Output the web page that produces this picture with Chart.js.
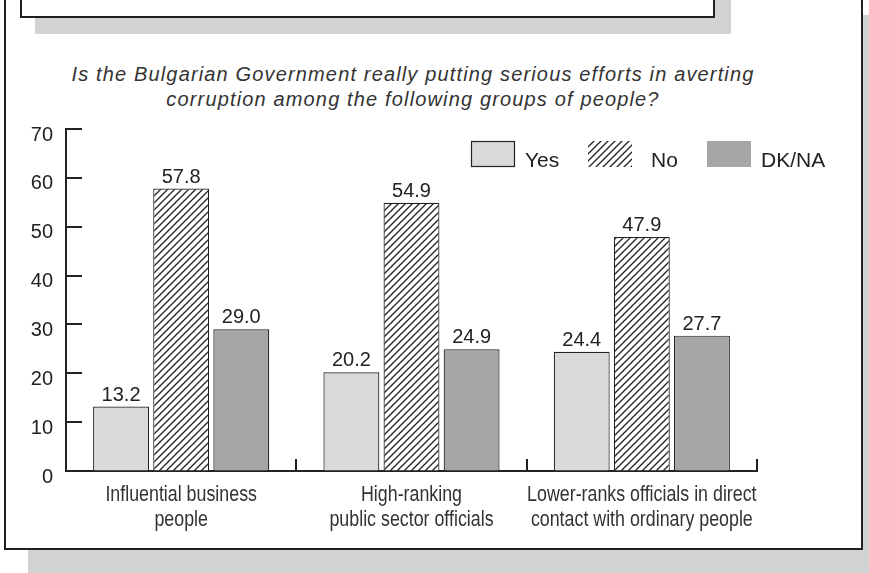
<!DOCTYPE html>
<html><head><meta charset="utf-8">
<script src="https://cdn.jsdelivr.net/npm/chart.js@4.4.1/dist/chart.umd.min.js"></script>
<style>
html,body{margin:0;padding:0;background:#fff;width:869px;height:573px;overflow:hidden;position:relative;}
.abs{position:absolute;box-sizing:border-box;}
#subtitle{left:0;width:826px;top:62px;text-align:center;font:italic 20px "Liberation Sans",Arial,sans-serif;letter-spacing:1.15px;line-height:25px;color:#333;}
canvas{position:absolute;left:0;top:0;}
</style></head><body>
<div class="abs" style="left:28px;top:15px;right:0;bottom:0;background:#d1d2d4;"></div>
<div class="abs" style="left:4px;top:-10px;width:859px;height:560px;border:2px solid #231f20;background:#fff;"></div>
<div class="abs" style="left:35px;top:-5px;width:696px;height:39px;background:#d1d2d4;"></div>
<div class="abs" style="left:20px;top:-10px;width:695px;height:28px;border:2px solid #231f20;background:#fff;"></div>
<div class="abs" id="subtitle">Is the Bulgarian Government really putting serious efforts in averting<br>corruption among the following groups of people?</div>
<canvas id="c" width="869" height="573"></canvas>
<script>
const categories = [
  ['Influential business', 'people'],
  ['High-ranking', 'public sector officials'],
  ['Lower-ranks officials in direct', 'contact with ordinary people']
];
const seriesNames = ['Yes', 'No', 'DK/NA'];
const yesValues = [13.2, 20.2, 24.4];
const noValues = [57.8, 54.9, 47.9];
const dkValues = [29.0, 24.9, 27.7];
const yMin = 0, yMax = 70, yStep = 10;

const canvas = document.getElementById('c');
const ctx = canvas.getContext('2d');
const INK = '#222';

function hatchPattern() {
  const s = 7;
  const c = document.createElement('canvas');
  c.width = s; c.height = s;
  const g = c.getContext('2d');
  g.fillStyle = '#fff'; g.fillRect(0, 0, s, s);
  g.strokeStyle = INK; g.lineWidth = 1.3;
  g.beginPath();
  g.moveTo(-1, s + 1); g.lineTo(s + 1, -1);
  g.moveTo(-1, 1); g.lineTo(1, -1);
  g.moveTo(s - 1, s + 1); g.lineTo(s + 1, s - 1);
  g.stroke();
  return ctx.createPattern(c, 'repeat');
}
const hatch = hatchPattern();
const fills = ['#d9d9d9', hatch, '#a6a6a6'];

const axisTicks = {
  id: 'axisTicks',
  afterDraw(chart) {
    const { ctx, chartArea, scales } = chart;
    const y = scales.y, x = scales.x;
    ctx.save();
    ctx.strokeStyle = INK; ctx.lineWidth = 2;
    ctx.beginPath();
    for (let v = yMin; v <= yMax; v += yStep) {
      const py = Math.round(y.getPixelForValue(v));
      ctx.moveTo(chartArea.left, py); ctx.lineTo(chartArea.left + 16, py);
    }
    for (let i = 1; i <= categories.length; i++) {
      const px = Math.round(x.getPixelForValue(i - 0.5));
      ctx.moveTo(px, chartArea.bottom); ctx.lineTo(px, chartArea.bottom - 12);
    }
    ctx.stroke();
    // condensed category labels
    ctx.fillStyle = '#333';
    ctx.font = '22px "Liberation Sans", Arial, sans-serif';
    ctx.textAlign = 'center'; ctx.textBaseline = 'alphabetic';
    categories.forEach((lines, i) => {
      const cx = x.getPixelForValue(i);
      lines.forEach((t, j) => {
        ctx.save();
        ctx.translate(cx, chartArea.bottom + 30 + j * 25);
        ctx.scale(0.81, 1);
        ctx.fillText(t, 0, 0);
        ctx.restore();
      });
    });
    ctx.restore();
  }
};

const valueLabels = {
  id: 'valueLabels',
  afterDatasetsDraw(chart) {
    const { ctx } = chart;
    ctx.save();
    ctx.font = '20px "Liberation Sans", Arial, sans-serif';
    ctx.fillStyle = INK; ctx.textAlign = 'center'; ctx.textBaseline = 'alphabetic';
    chart.data.datasets.forEach((ds, di) => {
      chart.getDatasetMeta(di).data.forEach((el, i) => {
        ctx.fillText(ds.data[i].toFixed(1), el.x, el.y - 6);
      });
    });
    ctx.restore();
  }
};

const customLegend = {
  id: 'customLegend',
  afterDraw(chart) {
    const { ctx } = chart;
    const items = [
      { sx: 471, tx: 525, border: true },
      { sx: 588, tx: 651, border: false },
      { sx: 707, tx: 761, border: false }
    ];
    ctx.save();
    ctx.font = '21px "Liberation Sans", Arial, sans-serif';
    ctx.textBaseline = 'alphabetic'; ctx.textAlign = 'left';
    chart.data.datasets.forEach((ds, i) => {
      const it = items[i];
      ctx.fillStyle = ds.backgroundColor;
      ctx.fillRect(it.sx, 141, 44, 26);
      if (it.border) { ctx.strokeStyle = INK; ctx.lineWidth = 1.2; ctx.strokeRect(it.sx + 0.5, 141.5, 43, 25); }
      ctx.fillStyle = INK;
      ctx.fillText(ds.label, it.tx, 167);
    });
    ctx.restore();
  }
};

new Chart(ctx, {
  type: 'bar',
  data: {
    labels: categories,
    datasets: [
      { label: seriesNames[0], data: yesValues, backgroundColor: fills[0], borderColor: INK, borderWidth: 1.2 },
      { label: seriesNames[1], data: noValues, backgroundColor: fills[1], borderColor: INK, borderWidth: 1.2 },
      { label: seriesNames[2], data: dkValues, backgroundColor: fills[2], borderColor: INK, borderWidth: 1.2 }
    ]
  },
  options: {
    responsive: false,
    animation: false,
    devicePixelRatio: 1,
    categoryPercentage: 0.783,
    barPercentage: 0.93,
    layout: { padding: { left: 0, top: 129, right: 112, bottom: 0 } },
    plugins: { legend: { display: false }, tooltip: { enabled: false }, title: { display: false } },
    scales: {
      x: {
        type: 'category',
        afterFit(s) { s.height = 102; },
        grid: { drawOnChartArea: false, drawTicks: false, offset: true },
        border: { display: true, color: INK, width: 2 },
        ticks: { display: false }
      },
      y: {
        min: yMin, max: yMax,
        afterFit(s) { s.width = 66; },
        grid: { drawOnChartArea: false, drawTicks: false },
        border: { display: true, color: INK, width: 2 },
        ticks: { stepSize: yStep, color: INK, padding: 13, labelOffset: 6,
          font: { family: '"Liberation Sans", Arial, sans-serif', size: 20 } }
      }
    }
  },
  plugins: [axisTicks, valueLabels, customLegend]
});
</script>
</body></html>
